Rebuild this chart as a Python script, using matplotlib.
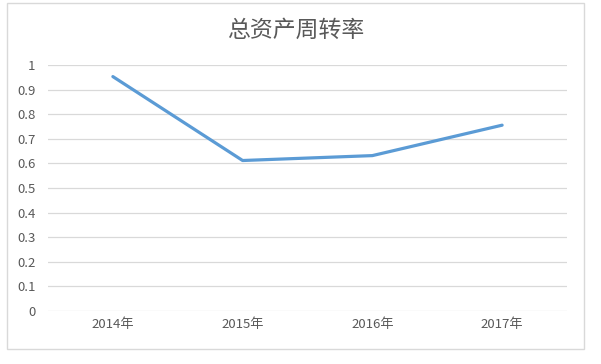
import matplotlib
matplotlib.use("Agg")
import matplotlib.pyplot as plt
from matplotlib.patches import Rectangle

plt.rcParams['font.family'] = ['Noto Sans CJK SC', 'DejaVu Sans']

title = "总资产周转率"
categories = ["2014年", "2015年", "2016年", "2017年"]
values = [0.954, 0.612, 0.632, 0.756]
yticks = [0, 0.1, 0.2, 0.3, 0.4, 0.5, 0.6, 0.7, 0.8, 0.9, 1]
ytick_labels = ["0", "0.1", "0.2", "0.3", "0.4", "0.5", "0.6", "0.7", "0.8", "0.9", "1"]

W, H = 601, 364
fig = plt.figure(figsize=(W / 100, H / 100), dpi=100)
fig.patch.set_facecolor("white")

# chart border
fig.patches.append(Rectangle((7.3 / W, 1 - 348.7 / H), (584 - 7.3) / W, (348.7 - 3.3) / H,
                             transform=fig.transFigure, fill=False,
                             edgecolor="#d9d9d9", linewidth=1.0))

ax = fig.add_axes([48 / W, 1 - 310.7 / H, (567 - 48) / W, (310.7 - 65.3) / H])
x = list(range(len(categories)))
ax.plot(x, values, color="#5b9bd5", linewidth=2.3, solid_capstyle="round",
        solid_joinstyle="round", zorder=3)

ax.set_xlim(-0.5, len(categories) - 0.5)
ax.set_ylim(0, 1)
ax.set_yticks(yticks)
ax.set_yticklabels(ytick_labels)
ax.set_xticks(x)
ax.set_xticklabels(categories)
ax.grid(axis="y", color="#d9d9d9", linewidth=0.9)
ax.set_axisbelow(True)
for s in ax.spines.values():
    s.set_visible(False)
ax.tick_params(axis="both", length=0, labelsize=9.5, labelcolor="#595959")
ax.tick_params(axis="y", pad=9)
ax.tick_params(axis="x", pad=5)

fig.text(295.7 / W, 1 - 30 / H, title, ha="center", va="center",
         fontsize=16.5, color="#595959")

fig.savefig("out.png", dpi=100)
